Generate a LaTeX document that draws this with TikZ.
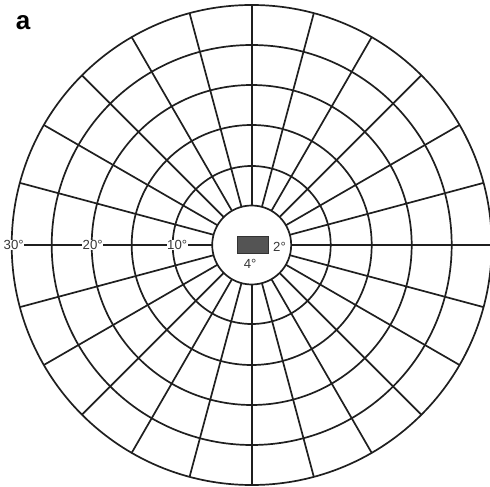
\documentclass[tikz,border=0pt]{standalone}
\usepackage{fontspec}
\setmainfont{Liberation Sans}
\begin{document}
\begin{tikzpicture}[x=1pt,y=1pt,
  grid/.style={line width=1.7pt, draw=black!88},
  deg/.style={fill=white, inner sep=0.6pt, text=black!78, font=\fontsize{13.2}{13.2}\selectfont},
  inlab/.style={inner sep=0pt, text=black!78, font=\fontsize{13.2}{13.2}\selectfont}]
\useasboundingbox (-251.7,-242) rectangle (238.3,245);
% rings
\foreach \r in {79,120,160,200,240} \draw[grid] (0,0) circle (\r);
\draw[grid] (0,0) circle (39.5);
% spokes
\foreach \a in {0,15,...,165,195,210,...,345} \draw[grid] (\a:39.5) -- (\a:240);
\coordinate (sIn) at (180:39.5);
\coordinate (sOut) at (180:240);
\draw[grid] (sIn) -- (sOut);
% eccentricity labels
\node[deg] (l10) at (-74.5,0) {10°};
\node[deg] (l20) at (-159,0) {20°};
\node[deg] (l30) at (-238,0) {30°};
% fixation target
\node[draw=black!80, fill=black!67, line width=0.8pt, minimum width=31.5pt, minimum height=17pt, inner sep=0pt] (box) at (1.4,-0.4) {};
\node[inlab] (l2) at (27.8,-2) {2°};
\node[inlab] (l4) at (-1.5,-18.5) {4°};
% panel label
\node[font=\fontsize{26}{26}\selectfont\bfseries, inner sep=0pt] (pa) at (-228.5,222) {a};
\end{tikzpicture}
\end{document}
